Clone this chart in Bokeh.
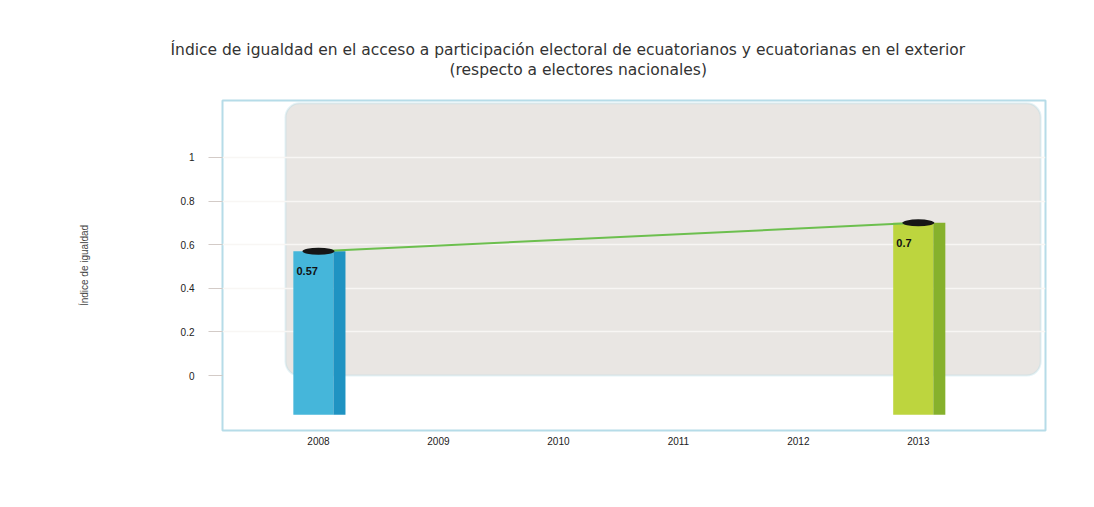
from bokeh.plotting import figure
from bokeh.models import (ColumnDataSource, Range1d, FixedTicker, Title, BoxAnnotation)
from bokeh.transform import dodge
from bokeh.core.properties import value
from bokeh.embed import file_html
from bokeh.resources import INLINE

# ---- data ----
years = [2008, 2009, 2010, 2011, 2012, 2013]
bar_years = [2008, 2013]
bar_values = [0.57, 0.7]
bar_labels = ["0.57", "0.7"]
y_ticks = [0, 0.2, 0.4, 0.6, 0.8, 1]
y_tick_labels = ["0", "0.2", "0.4", "0.6", "0.8", "1"]
title_line1 = "Índice de igualdad en el acceso a participación electoral de ecuatorianos y ecuatorianas en el exterior"
title_line2 = "(respecto a electores nacionales)"
y_title = "Índice de igualdad"

# ---- styles ----
face_colors = ["#45b6da", "#bdd53e"]
side_colors = ["#1f93c2", "#86b12c"]
FONT = "Liberation Sans"
TFONT = "DejaVu Sans"
Y_START, Y_END = -0.252, 1.261
BAR_BASE = -0.18  # depth of the 3D floor the bars stand on

src = ColumnDataSource(dict(x=bar_years, top=bar_values, label=bar_labels,
                            face=face_colors, side=side_colors,
                            base=[BAR_BASE] * len(bar_years)))

p = figure(width=1078, height=491,
           x_range=Range1d(2007.2, 2014.06), y_range=Range1d(Y_START, Y_END),
           output_backend="svg", toolbar_location=None,
           min_border_left=222, min_border_right=33,
           min_border_top=100, min_border_bottom=61,
           background_fill_color="white", border_fill_color="white",
           outline_line_color="#b6dce8", outline_line_width=2)

# titles (closest to the plot first): spacer, line 2, line 1
p.add_layout(Title(text=" ", standoff=19, text_font_size="1px"), "above")
p.add_layout(Title(text=title_line2, align="left", offset=227, standoff=0,
                   text_font=TFONT, text_font_size="15.5px", text_font_style="normal",
                   text_color="#333333"), "above")
p.add_layout(Title(text=title_line1, align="left", offset=-52, standoff=0,
                   text_font=TFONT, text_font_size="15.5px", text_font_style="normal",
                   text_color="#333333"), "above")

# back wall
wall = BoxAnnotation(left=2007.725, right=2014.02, bottom=0, top=1.248,
                     fill_color="#e9e6e3", fill_alpha=1,
                     line_color="#a9d6e6", line_width=2, level="image",
                     border_radius=14)
p.add_layout(wall)

# bars: front face + darker side
p.vbar(x=dodge("x", -0.042, range=p.x_range), width=0.335, top="top", bottom="base",
       fill_color="face", line_color=None, source=src)
p.vbar(x=dodge("x", 0.175, range=p.x_range), width=0.1, top="top", bottom="base",
       fill_color="side", line_color=None, source=src)

# connecting line
p.line(x="x", y="top", source=src, line_color="#6cbf4e", line_width=2)

# dark oval tops
p.ellipse(x="x", y="top", width=32, height=7, width_units="screen",
          height_units="screen", fill_color="#161616", line_color=None, source=src)

# value labels
p.text(x="x", y="top", text="label", source=src, x_offset=-22, y_offset=16,
       text_baseline="top", text_align="left", text_font=value(FONT),
       text_font_size="11px", text_font_style="bold", text_color="#111111")

# axes
p.xaxis.ticker = FixedTicker(ticks=years)
p.xaxis.major_label_overrides = {y: str(y) for y in years}
p.xaxis.axis_line_color = None
p.xaxis.major_tick_line_color = None
p.xaxis.minor_tick_line_color = None
p.xaxis.major_label_standoff = 0
p.xaxis.major_label_text_font = FONT
p.xaxis.major_label_text_font_size = "10px"
p.xaxis.major_label_text_color = "#222222"

p.yaxis.ticker = FixedTicker(ticks=y_ticks)
p.yaxis.major_label_overrides = dict(zip(y_ticks, y_tick_labels))
p.yaxis.axis_line_color = None
p.yaxis.minor_tick_line_color = None
p.yaxis.major_tick_in = 0
p.yaxis.major_tick_out = 14
p.yaxis.major_tick_line_color = "#d3cbc7"
p.yaxis.major_label_standoff = 14
p.yaxis.major_label_text_font = FONT
p.yaxis.major_label_text_font_size = "10px"
p.yaxis.major_label_text_color = "#222222"
p.yaxis.axis_label = y_title
p.yaxis.axis_label_standoff = 88
p.yaxis.axis_label_text_font = FONT
p.yaxis.axis_label_text_font_size = "10px"
p.yaxis.axis_label_text_font_style = "normal"
p.yaxis.axis_label_text_color = "#444444"

p.xgrid.grid_line_color = None
p.ygrid.ticker = FixedTicker(ticks=y_ticks[1:])
p.ygrid.grid_line_color = "#f8f6f4"
p.ygrid.grid_line_width = 1.5
p.ygrid.level = "underlay"

open("out.html", "w").write(file_html(p, INLINE))
